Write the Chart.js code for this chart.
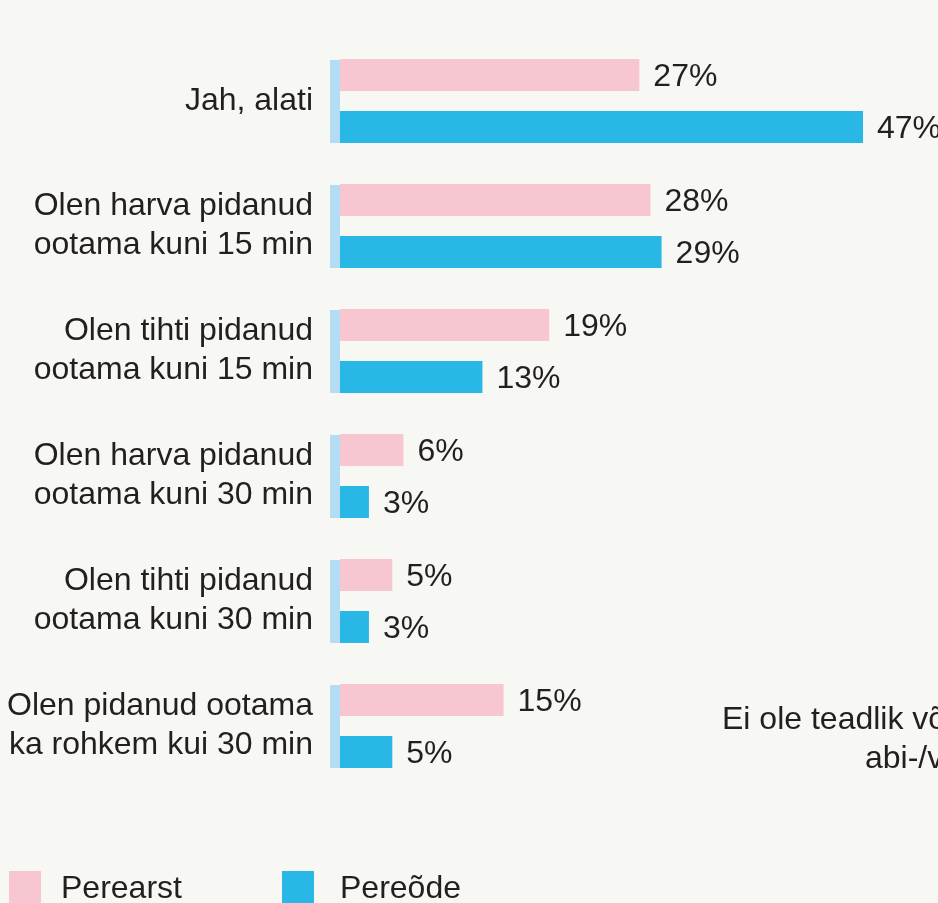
<!DOCTYPE html>
<html lang="et">
<head>
<meta charset="UTF-8">
<title>Ootamine</title>
<script src="https://cdn.jsdelivr.net/npm/chart.js"></script>
<style>
    html, body { margin: 0; padding: 0; background: #f7f7f3; overflow: hidden; }
    body { width: 938px; height: 903px; position: relative; font-family: "Liberation Sans", Arial, sans-serif; color: #231f20; }
    #chart { position: absolute; left: 0; top: 0; }
    .side { position: absolute; font-size: 32px; white-space: nowrap; line-height: 1; }
    .legend { position: absolute; top: 871px; height: 32px; font-size: 32px; line-height: 32px; white-space: nowrap; }
    .legend i { display: inline-block; width: 32px; height: 32px; vertical-align: top; }
</style>
</head>
<body>
<canvas id="chart" width="938" height="903"></canvas>

<div class="side" style="left:722px; top:702px;">Ei ole teadlik võimalusest</div>
<div class="side" style="left:865px; top:741px;">abi-/valvetelefonist</div>

<div class="legend" style="left:9px;"><i style="background:#f8c6d1; margin-right:20px"></i>Perearst</div>
<div class="legend" style="left:282px;"><i style="background:#29b7e5; margin-right:26px"></i>Pereõde</div>

<script>
const categories = [
    'Jah, alati',
    ['Olen harva pidanud', 'ootama kuni 15 min'],
    ['Olen tihti pidanud', 'ootama kuni 15 min'],
    ['Olen harva pidanud', 'ootama kuni 30 min'],
    ['Olen tihti pidanud', 'ootama kuni 30 min'],
    ['Olen pidanud ootama', 'ka rohkem kui 30 min']
];
// shares in %, labels shown rounded
const perearst = [26.9, 27.9, 18.8, 5.7, 4.7, 14.7];
const pereode = [47.0, 28.9, 12.8, 2.6, 2.6, 4.7];

// light blue strip left of every bar pair
const stripPlugin = {
    id: 'strip',
    beforeDatasetsDraw(chart) {
        const ctx = chart.ctx;
        const a = chart.getDatasetMeta(0).data;
        const b = chart.getDatasetMeta(1).data;
        const x0 = chart.scales.x.getPixelForValue(0);
        ctx.save();
        ctx.fillStyle = '#b4dcf3';
        a.forEach((bar, i) => {
            const top = bar.y - bar.height / 2 + 1;
            const bottom = b[i].y + b[i].height / 2;
            ctx.fillRect(x0 - 10, top, 10, bottom - top);
        });
        ctx.restore();
    }
};

// percentage labels after the bars
const valuePlugin = {
    id: 'values',
    afterDatasetsDraw(chart) {
        const ctx = chart.ctx;
        ctx.save();
        ctx.font = '32px "Liberation Sans", Arial, sans-serif';
        ctx.fillStyle = '#231f20';
        ctx.textAlign = 'left';
        ctx.textBaseline = 'middle';
        chart.data.datasets.forEach((ds, di) => {
            chart.getDatasetMeta(di).data.forEach((bar, i) => {
                ctx.fillText(Math.round(ds.data[i]) + '%', bar.x + 14, bar.y + 2);
            });
        });
        ctx.restore();
    }
};

new Chart(document.getElementById('chart'), {
    type: 'bar',
    data: {
        labels: categories,
        datasets: [
            { label: 'Perearst', data: perearst, backgroundColor: '#f8c6d1' },
            { label: 'Pereõde', data: pereode, backgroundColor: '#29b7e5' }
        ]
    },
    options: {
        indexAxis: 'y',
        responsive: false,
        animation: false,
        devicePixelRatio: 1,
        categoryPercentage: 0.832,
        barPercentage: 0.615,
        layout: { padding: { top: 38.5, bottom: 114.5, left: 0, right: 0 } },
        plugins: { legend: { display: false }, tooltip: { enabled: false } },
        scales: {
            x: { display: false, min: 0, max: 53.74 },
            y: {
                afterFit(scale) {
                    scale.width = 340;
                    scale.paddingTop = 0;
                    scale.paddingBottom = 0;
                },
                border: { display: false },
                grid: { display: false, drawTicks: false },
                ticks: {
                    padding: 27,
                    color: '#231f20',
                    font: { family: '"Liberation Sans", Arial, sans-serif', size: 32, lineHeight: 1.22 }
                }
            }
        }
    },
    plugins: [stripPlugin, valuePlugin]
});
</script>
</body>
</html>
